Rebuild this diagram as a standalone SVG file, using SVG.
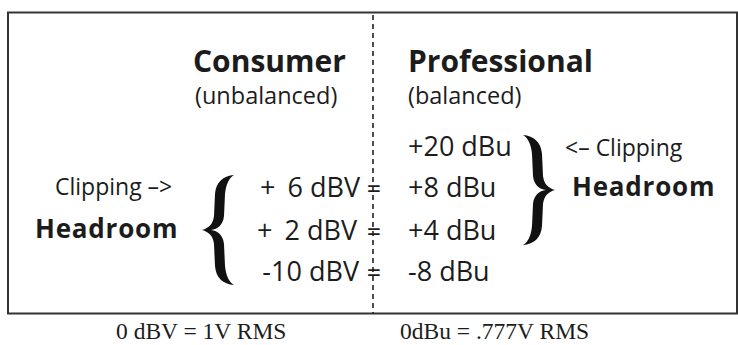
<svg xmlns="http://www.w3.org/2000/svg" width="738" height="345" viewBox="0 0 738 345">
  <defs>
    <style>
      .sans { font-family: "Open Sans", "Noto Sans", "DejaVu Sans", sans-serif; fill: #1c1c1c; }
      .head { font-size: 30px; font-weight: 700; }
      .sub { font-size: 23.5px; }
      .lvl { font-size: 27px; }
      .note { font-size: 23px; }
      .hr { font-size: 26px; font-weight: 700; letter-spacing: 0.8px; }
      .eq { font-size: 25px; text-anchor: middle; }
      .serif { font-family: "Liberation Serif", "Times New Roman", serif; font-size: 23.5px; fill: #1c1c1c; }
      .brace { fill: #111111; }
    </style>
    <!-- curly brace opening to the right, tip at (0,56), 32 wide, 112 tall -->
    <path id="brace" d="M32,1 C21,2 14,8 13,20 L12,42 C11,50 7,54 0,56 C7,58 11,62 12,70 L13,92 C14,104 21,110 32,111 C27,108 24,102 23,92 L22,70 C21,61 16,57 9,56 C16,55 21,51 22,42 L23,20 C24,10 27,4 32,1 Z"/>
  </defs>

  <rect width="738" height="345" fill="#ffffff"/>

  <!-- frame -->
  <g id="frame">
    <rect x="8" y="12.5" width="729" height="301" fill="none" stroke="#333333" stroke-width="2"/>
  </g>

  <!-- connectors: divider and equality marks -->
  <g id="connectors">
    <line x1="373" y1="15" x2="373" y2="314" stroke="#222222" stroke-width="1.6" stroke-dasharray="5 4"/>
    <text class="sans eq" x="374" y="198">=</text>
    <text class="sans eq" x="374" y="241">=</text>
    <text class="sans eq" x="374" y="282">=</text>
  </g>

  <g id="consumer-title">
    <text class="sans head" x="193" y="72">Consumer</text>
    <text class="sans sub" x="195" y="104">(unbalanced)</text>
  </g>

  <g id="professional-title">
    <text class="sans head" x="408" y="72">Professional</text>
    <text class="sans sub" x="408" y="104">(balanced)</text>
  </g>

  <g id="consumer-levels">
    <text class="sans lvl" x="360" y="197" text-anchor="end">+<tspan dx="5"> 6 dBV</tspan></text>
    <text class="sans lvl" x="357" y="240" text-anchor="end">+<tspan dx="5"> 2 dBV</tspan></text>
    <text class="sans lvl" x="359" y="281" text-anchor="end">-10 dBV</text>
  </g>

  <g id="professional-levels">
    <text class="sans lvl" x="408" y="156">+20 dBu</text>
    <text class="sans lvl" x="408" y="197">+8 dBu</text>
    <text class="sans lvl" x="408" y="240">+4 dBu</text>
    <text class="sans lvl" x="408" y="281">-8 dBu</text>
  </g>

  <g id="consumer-headroom">
    <text class="sans note" x="55" y="195">Clipping –&gt;</text>
    <text class="sans hr" x="35" y="238">Headroom</text>
    <use href="#brace" class="brace" transform="translate(202,174)"/>
  </g>

  <g id="professional-headroom">
    <use href="#brace" class="brace" transform="translate(555,134) scale(-1,1)"/>
    <text class="sans note" x="565" y="156">&lt;– Clipping</text>
    <text class="sans hr" x="572" y="196">Headroom</text>
  </g>

  <g id="reference-levels">
    <text class="serif" x="116" y="339">0 dBV = 1V RMS</text>
    <text class="serif" x="400" y="339">0dBu = .777V RMS</text>
  </g>
</svg>
